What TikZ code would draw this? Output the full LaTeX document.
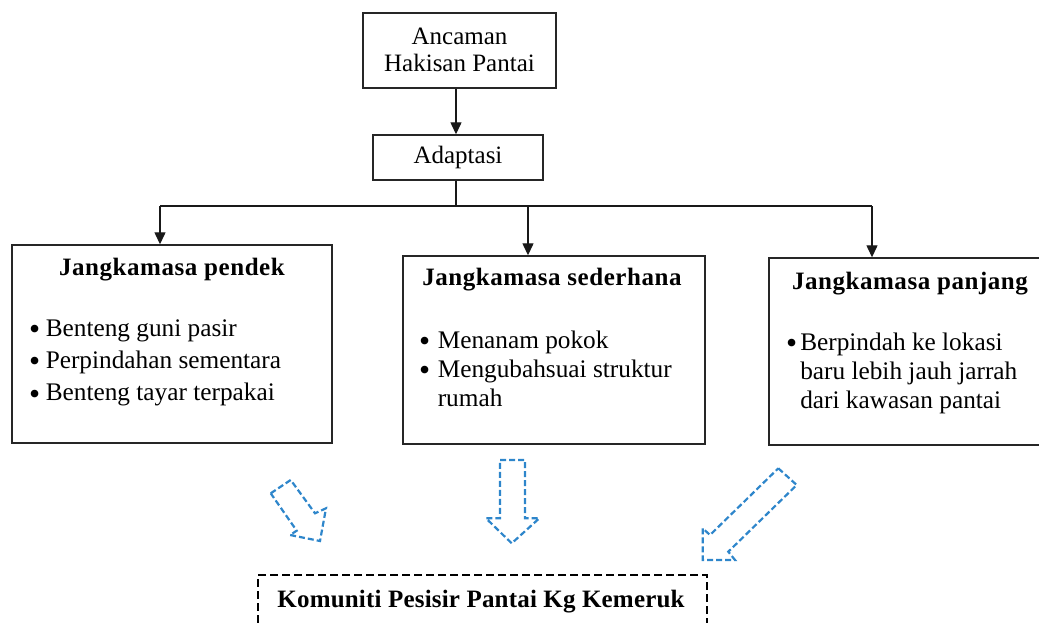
\documentclass[tikz,border=0pt]{standalone}
\usepackage{fontspec}
\setmainfont{Liberation Serif}
\usetikzlibrary{arrows.meta}
\definecolor{dblue}{RGB}{46,134,203}
\newcommand{\mybul}{\smash{\raisebox{-3.6pt}{\scalebox{1.25}{\textbullet}}}}
\begin{document}
\begin{tikzpicture}[x=1pt,y=-1pt,
  box/.style={draw=black!85,line width=1.4pt,inner sep=0pt,fill=white},
  txt/.style={inner sep=0pt,font=\fontsize{25}{27.5}\selectfont},
  ttl/.style={inner sep=0pt,font=\fontsize{25}{30}\selectfont\bfseries\addfontfeature{LetterSpace=2.2}},
  komttl/.style={inner sep=0pt,font=\fontsize{25}{30}\selectfont\bfseries\addfontfeature{LetterSpace=0.8}},
  conn/.style={line width=1.3pt,draw=black!90},
  arr/.style={conn,-{Triangle[length=12pt,width=11pt]}},
  blk/.style={draw=dblue,dash pattern=on 6pt off 3pt,line width=2.2pt,line join=miter},
  kombox/.style={draw=black,dash pattern=on 8pt off 4pt,line width=2.3pt,inner sep=0pt},
]
\useasboundingbox (0,0) rectangle (1039,623);

% boxes
\node[box,minimum width=193pt,minimum height=75pt] (top) at (459.5,50.5) {};
\node[box,minimum width=170pt,minimum height=45pt] (adp) at (458,157.5) {};
\node[box,minimum width=320pt,minimum height=198pt] (short) at (172,344) {};
\node[box,minimum width=302pt,minimum height=188pt] (mid) at (554,350) {};
\node[box,minimum width=276pt,minimum height=187pt] (long) at (907,351.5) {};
\node[kombox,minimum width=449pt,minimum height=70pt] (kom) at (482.5,610) {};

% texts
\node[txt,anchor=base] (tanc) at (459.5,44.3)
  {\begin{tabular}[t]{@{}c@{}}Ancaman\\Hakisan Pantai\end{tabular}};
\node[txt,anchor=base] (tadp) at (458,164) {Adaptasi};
\node[ttl,anchor=base] (tshort) at (172,275) {Jangkamasa pendek};
\node[ttl,anchor=base] (tmid) at (552,285) {Jangkamasa sederhana};
\node[ttl,anchor=base] (tlong) at (910,289) {Jangkamasa panjang};
\node[komttl,anchor=base] (tkom) at (481,607) {Komuniti Pesisir Pantai Kg Kemeruk};

\node[inner sep=0pt,font=\fontsize{25.3}{32.3}\selectfont,anchor=base west] (lshort) at (29,336)
  {\begin{tabular}[t]{@{}l@{\hspace{5.5pt}}l@{}}
   \mybul & Benteng guni pasir\\
   \mybul & Perpindahan sementara\\
   \mybul & Benteng tayar terpakai
   \end{tabular}};
\node[inner sep=0pt,font=\fontsize{25.3}{29}\selectfont,anchor=base west] (lmid) at (419,348)
  {\begin{tabular}[t]{@{}l@{\hspace{7.5pt}}l@{}}
   \mybul & Menanam pokok\\
   \mybul & Mengubahsuai struktur\\
   & rumah
   \end{tabular}};
\node[inner sep=0pt,font=\fontsize{25.3}{29}\selectfont,anchor=base west] (llong) at (786,350)
  {\begin{tabular}[t]{@{}l@{\hspace{3pt}}l@{}}
   \mybul & Berpindah ke lokasi\\
   & baru lebih jauh jarrah\\
   & dari kawasan pantai
   \end{tabular}};

% connectors
\coordinate (j) at (456,206);
\coordinate (jl) at (160,206);
\coordinate (jm) at (528,206);
\coordinate (jr) at (872,206);
\draw[arr] (top.south -| j) -- (adp.north -| j);
\draw[conn] (adp.south -| j) -- (j);
\draw[conn] (jl) -- (jr);
\draw[arr] (jl) -- (short.north -| jl);
\draw[arr] (jm) -- (mid.north -| jm);
\draw[arr] (jr) -- (long.north -| jr);

% dashed block arrows
\draw[blk] (270.7,493.3) -- (290.7,480) -- (315,513.3) -- (326,508.3) -- (320,541)
  -- (290,535) -- (296.7,530.7) -- cycle;
\draw[blk] (500,460) -- (525,460) -- (525,518.3) -- (539.3,518.3) -- (511.7,543.3)
  -- (486,518.3) -- (500,518.3) -- cycle;
\draw[blk] (778.3,468.3) -- (796.7,485) -- (728.3,551.7) -- (735,560) -- (702.7,560)
  -- (702.7,528.3) -- (710,535) -- cycle;
\end{tikzpicture}
\end{document}
